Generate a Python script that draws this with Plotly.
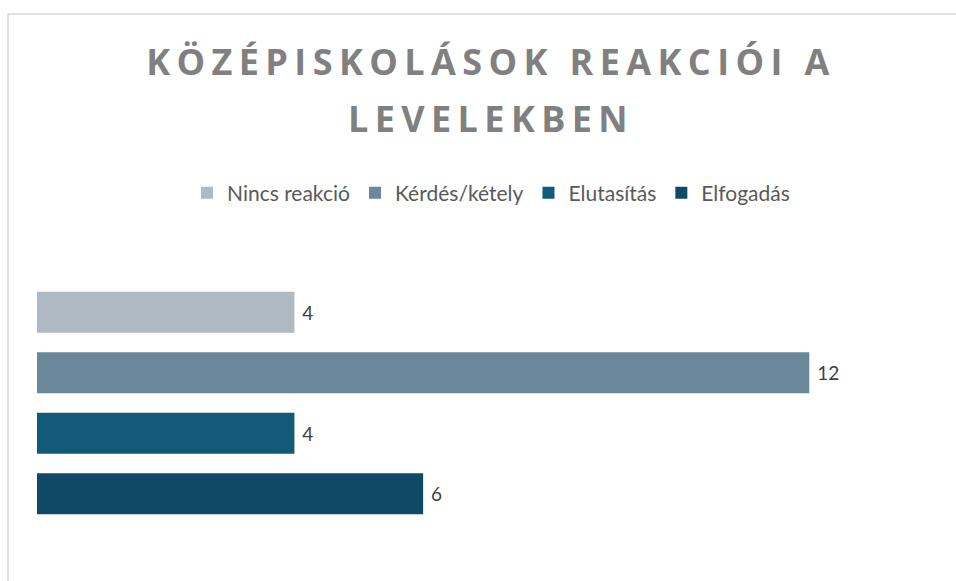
import plotly.graph_objects as go

# adatok
categories = ["Nincs reakció", "Kérdés/kétely", "Elutasítás", "Elfogadás"]
values = [4, 12, 4, 6]
colors = ["#AEB9C4", "#6A879B", "#135A78", "#104966"]

TITLE = "KÖZÉPISKOLÁSOK REAKCIÓI A<br>LEVELEKBEN"

W, H = 956, 581
L, R, T, B = 37, 18, 282, 57
X_MAX = 14

fig = go.Figure()
for cat, val, col in zip(categories, values, colors):
    fig.add_trace(go.Bar(
        x=[val], y=[cat],
        name=cat,
        orientation="h",
        marker=dict(color=col, line=dict(width=0)),
        texttemplate="\u00a0%{x}",
        textposition="outside",
        textfont=dict(family="Lato", size=19, color="#404040"),
        cliponaxis=False,
    ))

# keret (bal és felső vonal) pixelből papír koordinátába
pw = W - L - R
ph = H - T - B
bx = (8 - L) / pw
by = (H - B - 14) / ph
border = dict(color="#D9D9D9", width=1.5)
fig.add_shape(type="line", xref="paper", yref="paper",
              x0=bx, x1=bx, y0=by, y1=-1, line=border)
fig.add_shape(type="line", xref="paper", yref="paper",
              x0=bx, x1=2, y0=by, y1=by, line=border)

fig.update_layout(
    width=W, height=H,
    margin=dict(l=L, r=R, t=T, b=B),
    paper_bgcolor="white",
    plot_bgcolor="white",
    barmode="group",
    bargap=0.32,
    showlegend=True,
    title=dict(
        text=TITLE,
        x=491 / W, xref="container", xanchor="center",
        y=1 - 75 / H, yref="container", yanchor="top",
        font=dict(family="Open Sans", size=36, color="#808080", weight="bold"),
    ),
    legend=dict(
        orientation="h",
        x=491 / W, xref="container", xanchor="center",
        y=1 - 193 / H, yref="container", yanchor="middle",
        font=dict(family="Lato", size=21, color="#595959"),
        traceorder="normal",
    ),
    xaxis=dict(range=[0, X_MAX], visible=False, fixedrange=True),
    yaxis=dict(categoryorder="array", categoryarray=categories,
               autorange="reversed", visible=False, fixedrange=True),
)

post = """
document.body.style.margin='0';
document.querySelectorAll('.gtitle').forEach(function(t){
  t.style.letterSpacing='6.4px';
  var lines=t.querySelectorAll('tspan.line');
  if(lines.length>1){lines[1].setAttribute('dy','1.58em');}
});
"""

fig.write_html("out.html", post_script=post, config={"displayModeBar": False})
